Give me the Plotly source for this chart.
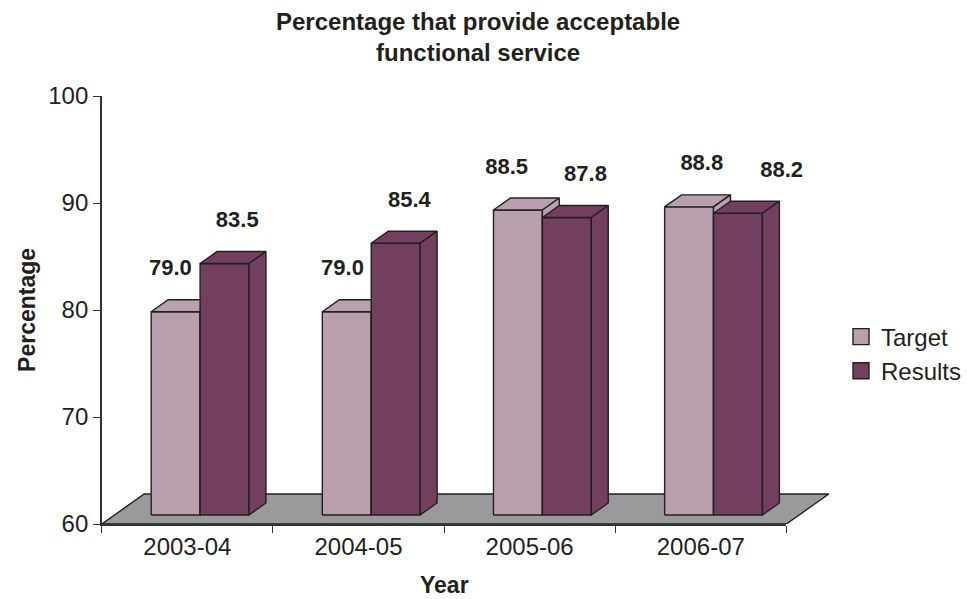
import plotly.graph_objects as go

# ---------------- data ----------------
years = ["2003-04", "2004-05", "2005-06", "2006-07"]
target = [79.0, 79.0, 88.5, 88.8]
results = [83.5, 85.4, 87.8, 88.2]
series_names = ["Target", "Results"]
y_ticks = [60, 70, 80, 90, 100]

# ---------------- styling / geometry ----------------
W, H = 967, 599
X0, X1, XD1 = 102, 788, 860        # axis left, category-axis right, drawing extent (px)
Y_TOP, Y_BOT = 96, 524             # y=100 and y=60 (px)
YMIN, YMAX = 60, 100
U = (X1 - X0) / len(years)         # px per category unit
PY = (Y_BOT - Y_TOP) / (YMAX - YMIN)  # px per y unit

FLOOR_DX, FLOOR_DY = 42.5, 30.0    # px depth of the floor
FRONT, BACK = 0.3, 0.7             # depth fraction of bars
BAR_W = 49.0                       # px width of each bar
LABEL_GAP = 30.0                   # px above back top
target_label_nudge = [-17, -16, -23, 1]
results_label_nudge = [50, 51, 56, 81]

C_TARGET = "#B8A0AE"
C_RESULTS = "#723F5E"
C_FLOOR = "#9A9A9C"
C_EDGE = "#231F20"
C_TEXT = "#231F20"
FONT = "Liberation Sans, Arial, sans-serif"

fdx, fdy = FLOOR_DX / U, FLOOR_DY / PY
fx, fy = FRONT * fdx, FRONT * fdy
bx, by = BACK * fdx, BACK * fdy
bw = BAR_W / U

fig = go.Figure()


def poly(xs, ys, color):
    fig.add_trace(go.Scatter(
        x=xs + [xs[0]], y=ys + [ys[0]], mode="lines", fill="toself",
        fillcolor=color, line=dict(color=C_EDGE, width=1.4),
        hoverinfo="skip", showlegend=False, xaxis="x2", yaxis="y"))


# floor
n = len(years)
poly([-0.5, n - 0.5, n - 0.5 + fdx, -0.5 + fdx],
     [YMIN, YMIN, YMIN + fdy, YMIN + fdy], C_FLOOR)


def bar3d(xl, v, color):
    xr = xl + bw
    # front face
    poly([xl + fx, xr + fx, xr + fx, xl + fx],
         [YMIN + fy, YMIN + fy, v + fy, v + fy], color)
    # top face
    poly([xl + fx, xr + fx, xr + bx, xl + bx],
         [v + fy, v + fy, v + by, v + by], color)
    # side face
    poly([xr + fx, xr + bx, xr + bx, xr + fx],
         [YMIN + fy, YMIN + by, v + by, v + fy], color)


for i in range(n):
    bar3d(i - bw, target[i], C_TARGET)
    bar3d(i, results[i], C_RESULTS)

# data labels
lab_x, lab_y, lab_t = [], [], []
for i in range(n):
    for v, nud in ((target[i], target_label_nudge[i]), (results[i], results_label_nudge[i])):
        lab_x.append(i + nud / U)
        lab_y.append(v + by + LABEL_GAP / PY)
        lab_t.append(f"<b>{v:.1f}</b>")
fig.add_trace(go.Scatter(
    x=lab_x, y=lab_y, text=lab_t, mode="text", textposition="middle center",
    textfont=dict(family=FONT, size=22, color=C_TEXT), cliponaxis=False,
    hoverinfo="skip", showlegend=False, xaxis="x2", yaxis="y"))

# invisible trace for the category axis
fig.add_trace(go.Scatter(
    x=years, y=target, mode="markers", marker=dict(opacity=0),
    hoverinfo="skip", showlegend=False, xaxis="x", yaxis="y"))

# legend entries
for nm, col in zip(series_names, [C_TARGET, C_RESULTS]):
    fig.add_trace(go.Scatter(
        x=[None], y=[None], mode="markers", name=nm,
        marker=dict(symbol="square", size=17, color=col,
                    line=dict(color=C_EDGE, width=1.4)),
        xaxis="x2", yaxis="y"))

fig.update_layout(
    width=W, height=H,
    margin=dict(l=0, r=0, t=0, b=0),
    paper_bgcolor="white", plot_bgcolor="rgba(0,0,0,0)",
    font=dict(family=FONT, color=C_TEXT, size=24),
    xaxis=dict(domain=[X0 / W, X1 / W], anchor="y",
               type="category", range=[-0.5, n - 0.5],
               tickson="boundaries", ticks="outside", ticklen=7,
               tickwidth=1.3, tickcolor="#333333",
               showline=True, linecolor="#333333", linewidth=1.5,
               showgrid=False, zeroline=False,
               tickfont=dict(family=FONT, size=24, color=C_TEXT),
               automargin=False, fixedrange=True),
    xaxis2=dict(domain=[X0 / W, XD1 / W], anchor="y",
                range=[-0.5, -0.5 + (XD1 - X0) / U],
                visible=False, fixedrange=True),
    yaxis=dict(domain=[(H - Y_BOT) / H, (H - Y_TOP) / H], anchor="x",
               range=[YMIN, YMAX], tickvals=y_ticks, ticks="outside",
               ticklen=7, tickwidth=1.3, tickcolor="#333333",
               showline=True, linecolor="#333333", linewidth=1.5,
               showgrid=False, zeroline=False,
               tickfont=dict(family=FONT, size=24, color=C_TEXT),
               automargin=False, fixedrange=True),
    showlegend=True,
    legend=dict(x=(885 - 42) / W, xanchor="left",
                y=1 - 354 / H, yanchor="middle",
                bgcolor="rgba(0,0,0,0)", borderwidth=0,
                font=dict(family=FONT, size=24, color=C_TEXT),
                tracegroupgap=0),
    annotations=[
        dict(text="<b>Percentage that provide acceptable<br>functional service</b>",
             x=479 / W, y=1 - 37 / H, xref="paper", yref="paper",
             xanchor="center", yanchor="middle", showarrow=False,
             font=dict(family=FONT, size=24, color=C_TEXT)),
        dict(text="<b>Percentage</b>", textangle=-90,
             x=27 / W, y=1 - 310 / H, xref="paper", yref="paper",
             xanchor="center", yanchor="middle", showarrow=False,
             font=dict(family=FONT, size=23, color=C_TEXT)),
        dict(text="<b>Year</b>",
             x=445 / W, y=1 - 585 / H, xref="paper", yref="paper",
             xanchor="center", yanchor="middle", showarrow=False,
             font=dict(family=FONT, size=23, color=C_TEXT)),
    ],
)

fig.write_html("out.html")
